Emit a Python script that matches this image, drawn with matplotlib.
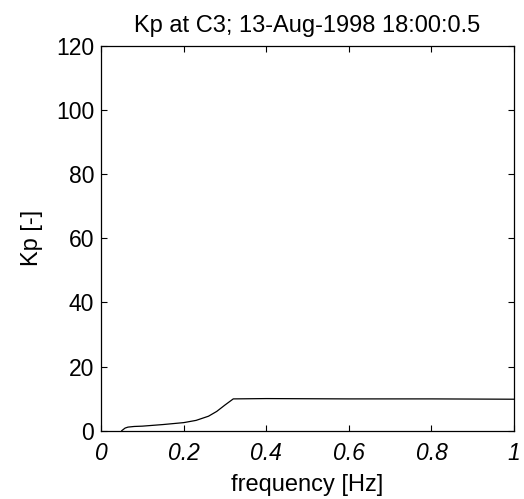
import matplotlib
matplotlib.use("Agg")
import matplotlib.pyplot as plt

plt.rcParams["font.family"] = ["Liberation Sans", "DejaVu Sans"]

freq = [0.05, 0.058, 0.065, 0.08, 0.1, 0.15, 0.2, 0.23, 0.26, 0.28, 0.30, 0.32, 0.4, 0.6, 0.8, 1.0]
kp = [0.0, 0.8, 1.1, 1.3, 1.4, 1.9, 2.5, 3.2, 4.5, 6.0, 8.0, 9.9, 10.0, 9.9, 9.9, 9.8]

xticks = [0, 0.2, 0.4, 0.6, 0.8, 1]
xticklabels = ["0", "0.2", "0.4", "0.6", "0.8", "1"]
yticks = [0, 20, 40, 60, 80, 100, 120]

fig = plt.figure(figsize=(5.24, 4.99), dpi=100)
ax = fig.add_axes([0.193, 0.137, 0.788, 0.771])
ax.plot(freq, kp, color="black", linewidth=0.9)
ax.set_xlim(0, 1)
ax.set_ylim(0, 120)
ax.set_xticks(xticks)
ax.set_xticklabels(xticklabels, fontsize=16.5, style="italic")
ax.set_yticks(yticks)
ax.set_yticklabels([str(v) for v in yticks], fontsize=16.5)
ax.tick_params(direction="in", length=4, width=0.8, top=True, right=True)
ax.tick_params(axis="y", pad=5)
ax.tick_params(axis="x", pad=8)
for s in ax.spines.values():
    s.set_linewidth(0.9)
ax.set_xlabel("frequency [Hz]", fontsize=17, labelpad=7)
ax.set_ylabel("Kp [-]", fontsize=17, labelpad=9)
ax.set_title("Kp at C3; 13-Aug-1998 18:00:0.5", fontsize=17, pad=10)

fig.savefig("out.png", dpi=100)
